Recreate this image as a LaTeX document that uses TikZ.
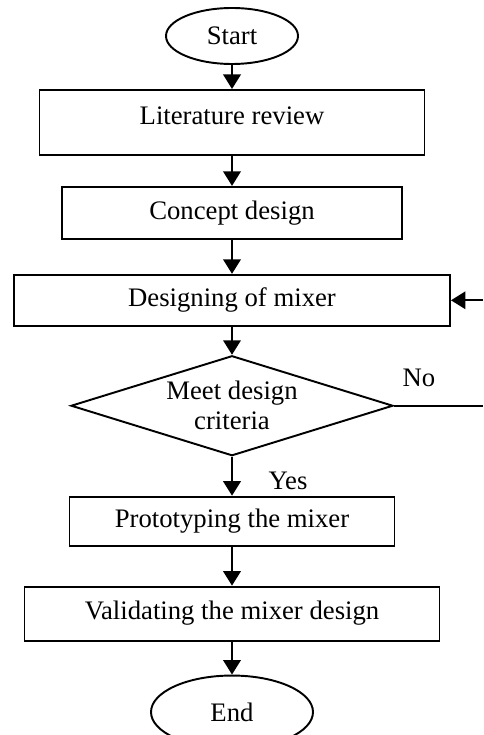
\documentclass[tikz,border=0pt]{standalone}
\usepackage{fontspec}
\setmainfont{Liberation Serif}
\usetikzlibrary{positioning,shapes.geometric,arrows.meta,calc}
\tikzset{
base/.style={draw=black,line width=1.1pt,font=\fontsize{15.2}{17}\selectfont,align=center,inner sep=2pt},
term/.style={base,ellipse},
stepbox/.style={base,rectangle},
check/.style={base,diamond,aspect=3.2,inner sep=0pt},
lbl/.style={font=\fontsize{15.2}{17}\selectfont},
flow/.style={-{Triangle[length=2.9mm,width=3.5mm]},line width=1.2pt}
}
\begin{document}
\begin{tikzpicture}
\useasboundingbox (0,0) rectangle (9.66,-14.7);
\coordinate (rim) at (9.66,0);
\node[term,minimum width=2.64cm,minimum height=1.12cm] (start) at (4.64,-0.72) {Start};
\node[stepbox,minimum width=7.7cm,minimum height=1.3cm,below=0.48cm of start] (lit) {\raisebox{0.26cm}{Literature review}};
\node[stepbox,minimum width=6.8cm,minimum height=1.04cm,below=0.6cm of lit] (concept) {Concept design};
\node[stepbox,minimum width=8.72cm,minimum height=1.02cm,below=0.68cm of concept] (designing) {Designing of mixer};
\node[check,minimum width=6.44cm,minimum height=2cm,below=0.56cm of designing] (meet) {Meet design\\criteria};
\node[stepbox,minimum width=6.5cm,minimum height=0.98cm,below=0.78cm of meet] (proto) {Prototyping the mixer};
\node[stepbox,minimum width=8.3cm,minimum height=1.08cm,below=0.78cm of proto] (valid) {Validating the mixer design};
\node[term,minimum width=3.24cm,minimum height=1.46cm,below=0.66cm of valid] (finish) {End};
\node[lbl] (no) at ($(meet.east)+(0.5,0.56)$) {No};
\node[lbl] (yes) at ($(meet.south)+(1.12,-0.48)$) {Yes};
\coordinate (noend) at (meet.east -| rim);
\coordinate (backin) at (designing.east -| rim);
% main flow
\draw[flow] (start) -- (lit);
\draw[flow] (lit) -- (concept);
\draw[flow] (concept) -- (designing);
\draw[flow] (designing) -- (meet);
\draw[flow] (meet) -- (proto);
\draw[flow] (proto) -- (valid);
\draw[flow] (valid) -- (finish);
% loop back
\draw[line width=1.1pt] (meet.east) -- (noend);
\draw[flow] (backin) -- (designing.east);
\end{tikzpicture}
\end{document}
